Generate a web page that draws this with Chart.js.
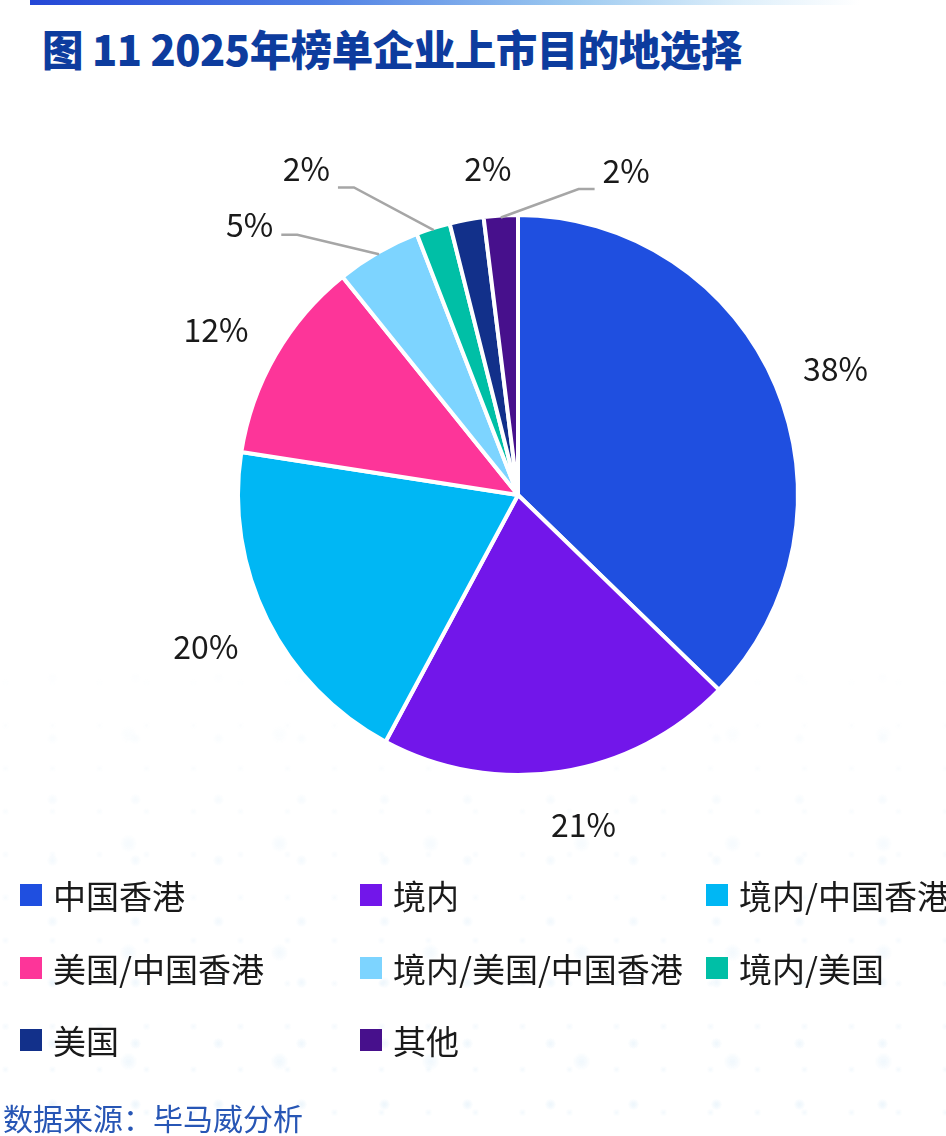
<!DOCTYPE html>
<html>
<head>
<meta charset="utf-8">
<script src="https://cdn.jsdelivr.net/npm/chart.js@4.4.1/dist/chart.umd.min.js"></script>
<style>
  html, body { margin: 0; padding: 0; background: #ffffff; }
  #wrap { position: relative; width: 946px; height: 1136px; overflow: hidden; background: #ffffff;
          font-family: "Noto Sans CJK SC", "Noto Sans", sans-serif; }
  #dots { position: absolute; left: 0; top: 640px; width: 946px; height: 496px;
          background-image:
            radial-gradient(circle, rgba(190,222,244,0.35) 0, rgba(190,222,244,0.2) 3px, transparent 6px),
            radial-gradient(circle, rgba(205,230,247,0.3) 0, transparent 4px),
            radial-gradient(circle, rgba(200,228,247,0.35) 0, rgba(200,228,247,0.2) 5px, transparent 9px);
          background-size: 83px 61px, 47px 43px, 151px 109px;
          background-position: 11px 7px, 29px 21px, 53px 40px;
          -webkit-mask-image: linear-gradient(to bottom, transparent 0%, rgba(0,0,0,0.5) 40%, rgba(0,0,0,0.85) 100%);
          mask-image: linear-gradient(to bottom, transparent 0%, rgba(0,0,0,0.5) 40%, rgba(0,0,0,0.85) 100%); }
  #topbar { position: absolute; left: 30px; top: 0; width: 830px; height: 5px;
            background: linear-gradient(to right, #2447d6 0%, #4f7fe4 35%, #9cc9f0 65%, #dceefa 85%, rgba(255,255,255,0) 100%); }
  #title { position: absolute; left: 42px; top: 22px; font-size: 41.5px; font-weight: 900; color: #0d3c9e;
           line-height: 52px; white-space: nowrap; letter-spacing: -0.5px; }
  #chart { position: absolute; left: 0; top: 0; }
  #legend { position: absolute; left: 0; top: 0; width: 946px; height: 1136px; pointer-events: none; }
  .item { position: absolute; height: 40px; display: flex; align-items: center; white-space: nowrap;
          font-size: 33px; color: #1a1a1a; }
  .sw { width: 22px; height: 22px; margin-right: 11px; flex: none; }
  #source { position: absolute; left: 3px; top: 1097px; font-size: 30px; color: #2756b5; line-height: 40px; white-space: nowrap; }
</style>
</head>
<body>
<div id="wrap">
  <div id="dots"></div>
  <div id="topbar"></div>
  <div id="title">图 11 2025年榜单企业上市目的地选择</div>
  <canvas id="chart" width="946" height="1136"></canvas>
  <div id="legend"></div>
  <div id="source">数据来源：毕马威分析</div>
</div>
<script>
// ---- data ----
const categories = ["中国香港", "境内", "境内/中国香港", "美国/中国香港", "境内/美国/中国香港", "境内/美国", "美国", "其他"];
const shares = [38, 21, 20, 12, 5, 2, 2, 2];
const sliceColors = ["#1f4fe0", "#7216ea", "#00b7f4", "#fd3599", "#7dd4ff", "#00bfa6", "#12308a", "#47108c"];

// ---- label layout (relative to each slice's mid-angle) ----
const labelLayout = [
  { r: 1.22, nudge: 1.3 },
  { r: 1.20, nudge: -2.4 },
  { r: 1.24, nudge: 0.5 },
  { r: 1.23, nudge: -1.3 },
  { r: 1.36, nudge: -14.8, leader: { dy: 10 } },
  { r: 1.39, nudge: -15.3, leader: { dy: 19 } },
  { r: 1.17, nudge: 5.3 },
  { r: 1.22, nudge: 22, leader: { dy: 18 } }
];

const pctLabels = {
  id: 'pctLabels',
  afterDatasetsDraw(chart, args, opts) {
    const ctx = chart.ctx;
    const meta = chart.getDatasetMeta(0);
    const ds = chart.data.datasets[0];
    ctx.save();
    ctx.font = '400 32px "Noto Sans CJK SC", "Noto Sans", sans-serif';
    ctx.textAlign = 'center';
    ctx.textBaseline = 'middle';
    meta.data.forEach((arc, i) => {
      const p = arc.getProps(['x', 'y', 'startAngle', 'endAngle', 'outerRadius'], true);
      const mid = (p.startAngle + p.endAngle) / 2;
      const lay = opts.layout[i];
      const a = mid + lay.nudge * Math.PI / 180;
      const rr = p.outerRadius * lay.r;
      const lx = p.x + Math.cos(a) * rr;
      const ly = p.y + Math.sin(a) * rr;
      const text = ds.data[i] + '%';
      const w = ctx.measureText(text).width;
      if (lay.leader) {
        const ex = p.x + Math.cos(mid) * (p.outerRadius - 2);
        const ey = p.y + Math.sin(mid) * (p.outerRadius - 2);
        const side = ex > lx ? 1 : -1;
        const sx = lx + side * (w / 2 + 8);
        const yy = ly + lay.leader.dy;
        const kx = sx + side * 16;
        ctx.beginPath();
        ctx.strokeStyle = '#a6a6a6';
        ctx.lineWidth = 2.5;
        ctx.moveTo(sx, yy);
        ctx.lineTo(kx, yy);
        ctx.lineTo(ex, ey);
        ctx.stroke();
      }
      ctx.fillStyle = '#1a1a1a';
      ctx.fillText(text, lx, ly);
    });
    ctx.restore();
  }
};

new Chart(document.getElementById('chart'), {
  type: 'pie',
  data: {
    labels: categories,
    datasets: [{
      data: shares,
      backgroundColor: sliceColors,
      borderColor: '#ffffff',
      borderWidth: 4,
      radius: 280
    }]
  },
  options: {
    responsive: false,
    animation: false,
    layout: { padding: { left: 90, right: 0, top: 0, bottom: 146 } },
    plugins: {
      legend: { display: false },
      tooltip: { enabled: false },
      pctLabels: { layout: labelLayout }
    }
  },
  plugins: [pctLabels]
});

// ---- HTML legend built from the arrays ----
const legend = document.getElementById('legend');
const colX = [20, 360, 706];
const rowY = [875, 948, 1020];
categories.forEach((name, i) => {
  const el = document.createElement('div');
  el.className = 'item';
  el.style.left = colX[i % 3] + 'px';
  el.style.top = rowY[Math.floor(i / 3)] + 'px';
  const sw = document.createElement('span');
  sw.className = 'sw';
  sw.style.background = sliceColors[i];
  const tx = document.createElement('span');
  tx.textContent = name;
  el.appendChild(sw);
  el.appendChild(tx);
  legend.appendChild(el);
});
</script>
</body>
</html>
